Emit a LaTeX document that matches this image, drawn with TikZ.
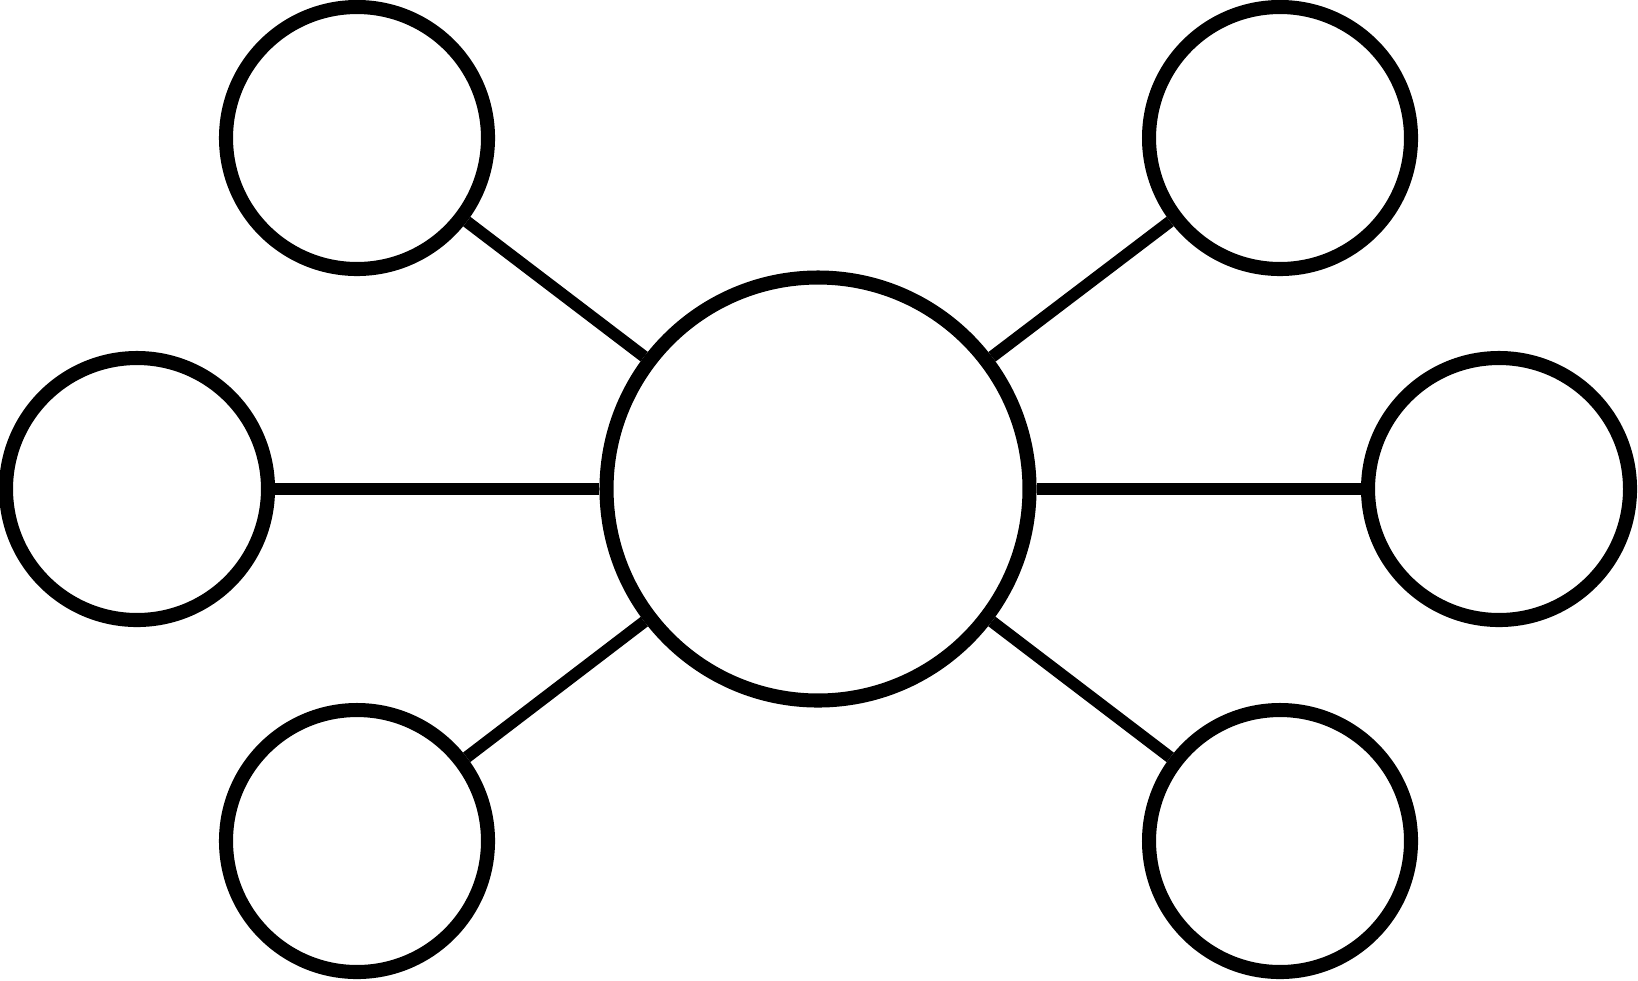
\documentclass[tikz,border=0pt]{standalone}
\usepackage{tikz}
\usetikzlibrary{positioning}

\begin{document}
\begin{tikzpicture}[x=1cm, y=1cm, every node/.style={draw=black, circle, line width=4pt, inner sep=0pt}]

        \useasboundingbox (0,0) rectangle (16.38,9.8);

        % Hub circle
        \node[minimum size=4.23cm] (hubCircle) at (8.18,4.91) {};

        % Outer circles
        \node[minimum size=2.62cm] (topLeftCircle) at (3.57,8.42) {};
        \node[minimum size=2.62cm] (leftCircle) at (1.37,4.91) {};
        \node[minimum size=2.62cm] (bottomLeftCircle) at (3.57,1.39) {};
        \node[minimum size=2.62cm] (topRightCircle) at (12.80,8.42) {};
        \node[minimum size=2.62cm] (rightCircle) at (14.99,4.91) {};
        \node[minimum size=2.62cm] (bottomRightCircle) at (12.80,1.39) {};

        % Spokes
        \draw[line width=3.4pt] (hubCircle) -- (topLeftCircle);
        \draw[line width=3.4pt] (hubCircle) -- (leftCircle);
        \draw[line width=3.4pt] (hubCircle) -- (bottomLeftCircle);
        \draw[line width=3.4pt] (hubCircle) -- (topRightCircle);
        \draw[line width=3.4pt] (hubCircle) -- (rightCircle);
        \draw[line width=3.4pt] (hubCircle) -- (bottomRightCircle);

    \end{tikzpicture}
\end{document}
